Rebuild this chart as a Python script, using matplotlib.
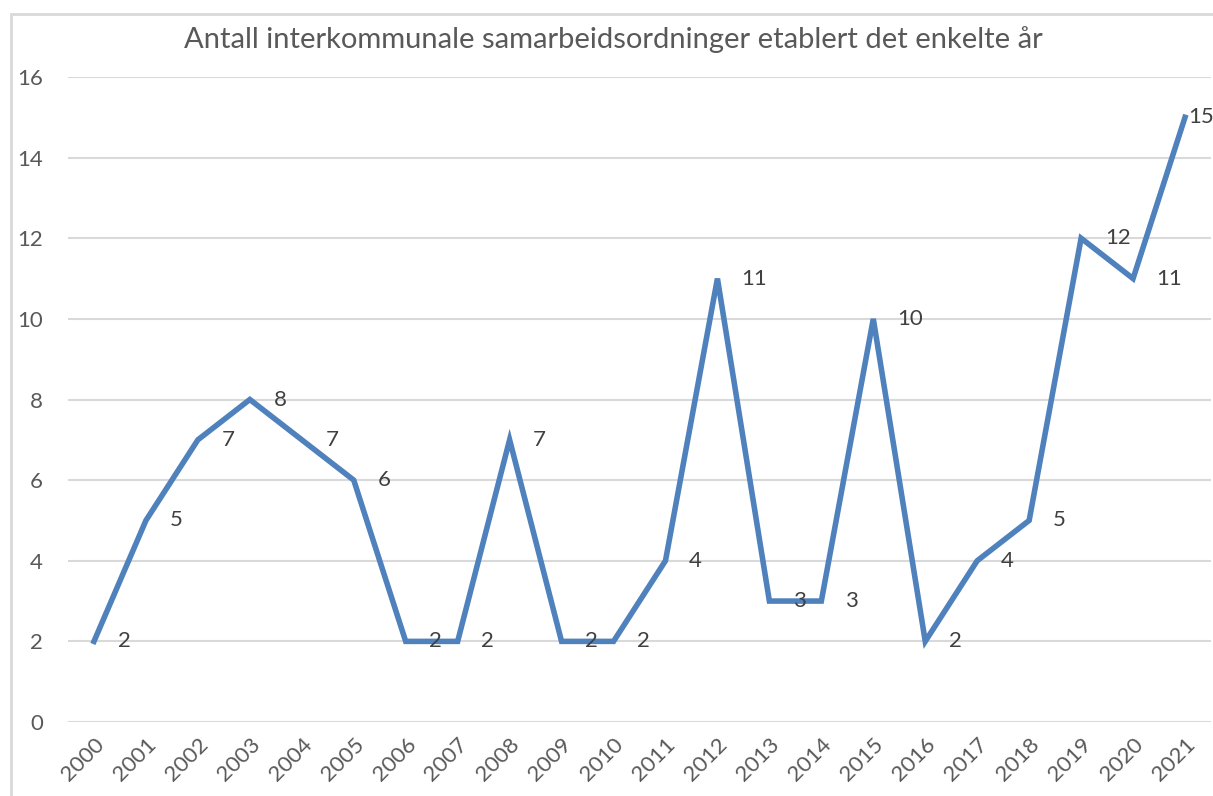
import matplotlib.pyplot as plt
from matplotlib.patches import Rectangle

years = [str(y) for y in range(2000, 2022)]
antall = [2, 5, 7, 8, 7, 6, 2, 2, 7, 2, 2, 4, 11, 3, 3, 10, 2, 4, 5, 12, 11, 15]
yticks = [0, 2, 4, 6, 8, 10, 12, 14, 16]

plt.rcParams['font.family'] = ['Lato', 'DejaVu Sans']
grey = '#595959'

fig = plt.figure(figsize=(12.13, 7.96), dpi=100)
ax = fig.add_axes([68 / 1213, 74 / 796, 1143 / 1213, 645 / 796])

x = list(range(len(years)))
ax.plot(x, antall, color='#4F81BD', linewidth=4, solid_joinstyle='miter')
for xi, v in zip(x, antall):
    dx = 2 if xi == x[-1] else 17
    ax.annotate(str(v), (xi, v), xytext=(dx, 0), textcoords='offset points',
                ha='left', va='center', fontsize=16, color='#404040')

ax.set_xlim(-0.5, len(years) - 0.5)
ax.set_ylim(0, 16)
ax.set_yticks(yticks)
ax.set_xticks(x)
ax.set_xticklabels(years, rotation=45, ha='right', rotation_mode='anchor')
ax.tick_params(axis='both', length=0, labelsize=16, labelcolor=grey)
ax.tick_params(axis='y', pad=18)
ax.tick_params(axis='x', pad=9)
ax.grid(axis='y', color='#D9D9D9', linewidth=1.5)
ax.set_axisbelow(True)
for s in ax.spines.values():
    s.set_visible(False)

fig.text(613 / 1213, 1 - 40 / 796, 'Antall interkommunale samarbeidsordninger etablert det enkelte år',
         ha='center', va='center', fontsize=21, color=grey)

fig.patches.append(Rectangle((11 / 1213, -0.1), 1.2, 1 - 14 / 796 + 0.1, transform=fig.transFigure,
                             fill=False, edgecolor='#D9D9D9', linewidth=2))

fig.savefig('out.png', dpi=100)
